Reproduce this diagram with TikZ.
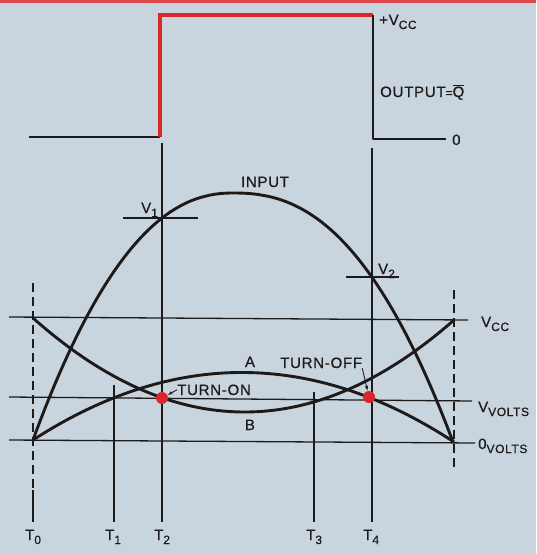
\documentclass[tikz,border=0pt]{standalone}
\usepackage{fontspec}
\setmainfont{Liberation Sans}[FakeBold=0.6, LetterSpace=5]
\usetikzlibrary{arrows.meta}
\definecolor{bgblue}{RGB}{200,213,222}
\definecolor{redwave}{RGB}{218,38,42}
\definecolor{ink}{RGB}{30,26,26}
\newcommand{\lsub}[1]{\raisebox{-4pt}{\fontsize{12}{12}\selectfont #1}}
\begin{document}
\begin{tikzpicture}[x=1pt, y=-1pt,
  thinln/.style={line width=1.3pt, draw=ink},
  wave/.style={line width=2.9pt, draw=ink, line join=round},
  redln/.style={line width=3.2pt, draw=redwave, line join=miter},
  dashln/.style={line width=1.3pt, draw=ink, dash pattern=on 9pt off 5pt},
  lbl/.style={font=\fontsize{15}{15}\selectfont, text=ink, inner sep=0pt},
  rdot/.style={circle, fill=redwave, minimum size=12pt, inner sep=0pt},
  ptr/.style={line width=0.9pt, draw=ink, -{Stealth[length=5pt,width=3.5pt]}, shorten >=0.5pt}
]
\fill[bgblue] (0,0) rectangle (536,554);
\useasboundingbox (0,0) rectangle (536,554);
\fill[redwave!85] (0,0) rectangle (536,2.5);

% ---- output waveform ----
\coordinate (o1) at (29,137);
\coordinate (o2) at (160,137);
\coordinate (o3) at (160,15);
\coordinate (o4) at (373,15);
\coordinate (o5) at (373,139);
\coordinate (o6) at (446,139);
\draw[wave] (o1) -- (o2);
\draw[redln] (o2) -- (o3) -- (o4);
\draw[wave] (o4) -- (o5) -- (o6);

% ---- horizontal reference lines ----
\coordinate (vccL) at (9,317);  \coordinate (vccRr) at (468,320);
\coordinate (vvL) at (9,397);   \coordinate (vvR) at (472,401);
\coordinate (ovL) at (9,440);   \coordinate (ovR) at (475,443);
\draw[thinln] (vccL) -- (vccRr);
\draw[thinln] (vvL) -- (vvR);
\draw[thinln] (ovL) -- (ovR);

% ---- vertical time lines ----
\coordinate (t0a) at (33,283); \coordinate (t0b) at (33,488);
\coordinate (t0c) at (33,490); \coordinate (t0d) at (33,522);
\draw[dashln] (t0a) -- (t0b);
\draw[thinln] (t0c) -- (t0d);
\coordinate (rda) at (454,290); \coordinate (rdb) at (454,467);
\draw[dashln] (rda) -- (rdb);
\coordinate (t1a) at (114,385); \coordinate (t1b) at (114,522);
\coordinate (t2a) at (162,143); \coordinate (t2b) at (162,522);
\coordinate (t3a) at (314,392); \coordinate (t3b) at (314,522);
\coordinate (t4a) at (372,148); \coordinate (t4b) at (372,522);
\draw[thinln] (t1a) -- (t1b);
\draw[thinln] (t2a) -- (t2b);
\draw[thinln] (t3a) -- (t3b);
\draw[thinln] (t4a) -- (t4b);

% ---- V1 / V2 ticks ----
\coordinate (v1a) at (123,218); \coordinate (v1b) at (198,218);
\coordinate (v2a) at (346,277); \coordinate (v2b) at (399,277);
\draw[thinln] (v1a) -- (v1b);
\draw[thinln] (v2a) -- (v2b);

% ---- input curve ----
\coordinate (inS) at (33,440);
\coordinate (inE) at (453,442);
\draw[wave] (inS) -- plot[domain=1:0.002, samples=70] ({233-200*\x},{193+247*exp(2.21*ln(\x))})
  -- plot[domain=0.002:1, samples=70] ({233+220*\x},{193+249*exp(2.36*ln(\x))}) -- (inE);

% ---- curve A (concave) and B (convex) ----
\coordinate (aS) at (33,440); \coordinate (aE) at (454,442);
\draw[wave] (aS) .. controls (173.3,349.3) and (313.7,350) .. (aE);
\coordinate (bS) at (33,318); \coordinate (bE) at (454,320);
\draw[wave] (bS) .. controls (173.3,442.7) and (313.7,443.3) .. (bE);

% ---- red dots ----
\node[rdot] (don) at (162,398) {};
\node[rdot] (doff) at (369,397) {};

% ---- labels ----
\node[lbl, anchor=base west] (vccTop) at (379,25) {+V\lsub{CC}};
\node[lbl, anchor=base west] (outq) at (380,97) {OUTPUT{\fontsize{12}{12}\selectfont =}$\overline{\mbox{Q}}$};
\node[lbl, anchor=base west] (zeroOut) at (452,145) {0};
\node[lbl, anchor=base] (input) at (265,187) {INPUT};
\node[lbl, anchor=base west] (v1) at (141,213) {V\lsub{1}};
\node[lbl, anchor=base west] (v2) at (378,274) {V\lsub{2}};
\node[lbl, anchor=base west] (vccR) at (481,327) {V\lsub{CC}};
\node[lbl, anchor=base] (la) at (250,367) {A};
\node[lbl, anchor=base west] (toff) at (280,368) {TURN-OFF};
\node[lbl, anchor=base west] (ton) at (177,395) {TURN-ON};
\node[lbl, anchor=base] (lb) at (250,430) {B};
\node[lbl, anchor=base west] (vv) at (478,412) {V\lsub{VOLTS}};
\node[lbl, anchor=base west] (ov) at (478,449) {0\lsub{VOLTS}};
\node[lbl, anchor=base west] (T0) at (25,540) {T\lsub{0}};
\node[lbl, anchor=base west] (T1) at (105,540) {T\lsub{1}};
\node[lbl, anchor=base west] (T2) at (154,540) {T\lsub{2}};
\node[lbl, anchor=base west] (T3) at (306,540) {T\lsub{3}};
\node[lbl, anchor=base west] (T4) at (363,540) {T\lsub{4}};

% ---- pointers ----
\draw[ptr] (ton.west) -- (don);
\draw[ptr] (toff.south east) -- (doff);
\end{tikzpicture}
\end{document}
